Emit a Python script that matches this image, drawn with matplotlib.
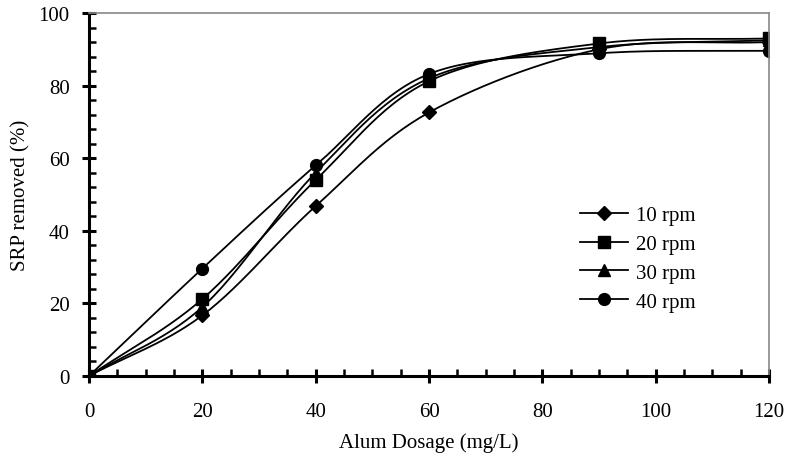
import matplotlib
matplotlib.use("Agg")
import matplotlib.pyplot as plt
from matplotlib.ticker import MultipleLocator
import numpy as np

plt.rcParams['font.family'] = ['Liberation Serif', 'DejaVu Serif']

# Data
dosage = [0, 20, 40, 60, 90, 120]
rpm10 = [0, 16.7, 46.8, 72.6, 90.0, 92.0]
rpm20 = [0, 21.2, 54.0, 81.2, 91.6, 93.0]
rpm30 = [0, 19.0, 56.0, 82.0, 90.6, 92.5]
rpm40 = [0, 29.6, 58.0, 83.2, 88.9, 89.6]
labels = ["10 rpm", "20 rpm", "30 rpm", "40 rpm"]
markers = ["D", "s", "^", "o"]
msizes = [7, 8, 8.5, 8.5]


def smooth(x, y, n=30):
    # Catmull-Rom spline through the points, like Excel's smoothed line
    x = np.asarray(x, float)
    y = np.asarray(y, float)
    px = np.concatenate([[2 * x[0] - x[1]], x, [2 * x[-1] - x[-2]]])
    py = np.concatenate([[2 * y[0] - y[1]], y, [2 * y[-1] - y[-2]]])
    xs, ys = [], []
    t = np.linspace(0, 1, n)
    for i in range(1, len(px) - 2):
        for p, out in ((px, xs), (py, ys)):
            p0, p1, p2, p3 = p[i - 1], p[i], p[i + 1], p[i + 2]
            out.extend(0.5 * ((2 * p1) + (-p0 + p2) * t
                              + (2 * p0 - 5 * p1 + 4 * p2 - p3) * t ** 2
                              + (-p0 + 3 * p1 - 3 * p2 + p3) * t ** 3))
    return xs, ys


fig = plt.figure(figsize=(7.89, 4.56), dpi=100)
ax = fig.add_axes([89 / 789, 1 - 377 / 456, 680 / 789, 363 / 456])

for ys, lab, m, ms in zip([rpm10, rpm20, rpm30, rpm40], labels, markers, msizes):
    sx, sy = smooth(dosage, ys)
    ax.plot(sx, sy, color="black", lw=1.3)
    ax.plot(dosage, ys, linestyle="none", marker=m, ms=ms, color="black")
    ax.plot([], [], color="black", lw=1.3, marker=m, ms=ms, label=lab)

ax.set_xlim(0, 120)
ax.set_ylim(0, 100)
ax.xaxis.set_major_locator(MultipleLocator(20))
ax.xaxis.set_minor_locator(MultipleLocator(5))
ax.yaxis.set_major_locator(MultipleLocator(20))
ax.yaxis.set_minor_locator(MultipleLocator(4))

for s in ["left", "bottom"]:
    ax.spines[s].set_linewidth(2.2)
for s in ["top", "right"]:
    ax.spines[s].set_color("#888888")
    ax.spines[s].set_linewidth(1.2)

ax.tick_params(which="major", direction="inout", length=10, width=2.2,
               labelsize=15, top=False, right=False)
ax.tick_params(axis="x", which="major", pad=14)
ax.tick_params(axis="y", which="major", pad=9)
ax.tick_params(which="minor", direction="in", length=5, width=1.8,
               top=False, right=False)

ax.set_xlabel("Alum Dosage (mg/L)", fontsize=15, labelpad=8)
ax.set_ylabel("SRP removed (%)", fontsize=15, labelpad=6)

ax.legend(loc="upper left", bbox_to_anchor=(0.695, 0.522), frameon=False,
          fontsize=15, handlelength=2.3, labelspacing=0.45, handletextpad=0.35)

fig.savefig("out.png", dpi=100)
